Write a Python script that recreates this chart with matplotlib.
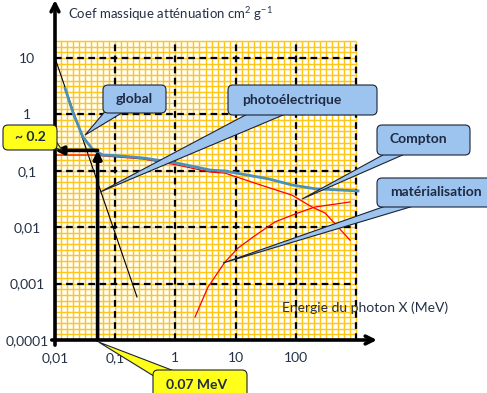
import numpy as np
import matplotlib.pyplot as plt
from matplotlib.patches import FancyBboxPatch, Polygon

plt.rcParams['font.family'] = ['Lato', 'DejaVu Sans']
plt.rcParams['mathtext.fontset'] = 'custom'
plt.rcParams['mathtext.rm'] = 'Lato'
plt.rcParams['mathtext.it'] = 'Lato:italic'
plt.rcParams['mathtext.bf'] = 'Lato:bold'

title = "Coef massique atténuation cm$^{2}$ g$^{-1}$"
xlabel = "Energie du photon X (MeV)"

x_ticks = [0.01, 0.1, 1, 10, 100]
x_labels = ["0,01", "0,1", "1", "10", "100"]
y_ticks = [1e-4, 1e-3, 1e-2, 0.1, 1, 10]
y_labels = ["0,0001", "0,001", "0,01", "0,1", "1", "10"]

# values (energy in MeV, coefficient in cm2/g)
e_global = [0.0147, 0.020, 0.029, 0.043, 0.063, 0.092, 0.29, 1.06, 3.8, 6.7, 35, 87, 210, 1080]
mu_global = [2.9, 1.06, 0.40, 0.234, 0.19, 0.188, 0.169, 0.137, 0.103, 0.099, 0.072, 0.056, 0.048, 0.044]

e_compton = [0.01, 0.043, 0.29, 1.06, 3.76, 6.67, 23.6, 86.5, 186, 305, 502, 794]
mu_compton = [0.19, 0.19, 0.162, 0.127, 0.095, 0.091, 0.058, 0.037, 0.0228, 0.0179, 0.0101, 0.0059]

e_pair = [2.12, 3.48, 6.67, 11.0, 19.5, 45, 109, 208, 794]
mu_pair = [0.000256, 0.00087, 0.00242, 0.00428, 0.0067, 0.0124, 0.0179, 0.0228, 0.028]

e_photo = [0.01, 0.23]
mu_photo = [10, 0.00058]

# reading of the global curve
e_read = 0.051
mu_read = 0.23

W, H = 487, 393
fig = plt.figure(figsize=(W / 100, H / 100), dpi=100)
ax = fig.add_axes([55 / W, 53 / H, 322 / W, 340 / H])
ax.set_xscale('log')
ax.set_yscale('log')
ax.set_xlim(0.01, 10 ** (322 / 60.2 - 2))
ax.set_ylim(1e-4, 10 ** (340 / 56.4 - 4))
for s in ax.spines.values():
    s.set_visible(False)

# graph paper
gx_max, gy_max = 1000, 10 ** 1.3
minor_x = 10 ** np.arange(-2, 3.01, 0.1)
minor_y = 10 ** np.arange(-4, 1.31, 0.1)
ax.vlines(minor_x, 1e-4, gy_max, colors='#FFC61A', lw=1.05, zorder=1)
ax.hlines(minor_y, 0.01, gx_max, colors='#FFC61A', lw=1.05, zorder=1)
ax.vlines([0.1, 1, 10, 100, 1000], 1e-4, gy_max, colors='k', lw=1.6,
          linestyles=(0, (3, 2)), zorder=2)
ax.hlines([1e-3, 1e-2, 0.1, 1, 10], 0.01, gx_max, colors='k', lw=1.6,
          linestyles=(0, (3, 2)), zorder=2)

# curves
ax.plot(e_photo, mu_photo, color='k', lw=0.8, zorder=3)
ax.plot(e_compton, mu_compton, color='#FF0000', lw=0.9, zorder=3)
ax.plot(e_pair, mu_pair, color='#FF0000', lw=0.9, zorder=3)
ax.plot(e_global, mu_global, color='#4a90b8', lw=2.0, zorder=4)

# reading arrows
arr = dict(arrowstyle='-|>', lw=2.6, color='k', mutation_scale=12, shrinkA=0, shrinkB=0)
ax.annotate('', xy=(e_read, mu_read), xytext=(e_read, 1e-4), arrowprops=arr, zorder=5)
ax.annotate('', xy=(0.01, mu_read), xytext=(e_read, mu_read), arrowprops=arr, zorder=5)

# axes with arrows
axarr = dict(arrowstyle='->', lw=2.6, color='k', mutation_scale=14, shrinkA=0, shrinkB=0)
ax.annotate('', xy=(0, 1), xycoords='axes fraction', xytext=(0, -0.015),
            arrowprops=axarr, annotation_clip=False)
ax.annotate('', xy=(1, 0), xycoords='axes fraction', xytext=(-0.01, 0),
            arrowprops=axarr, annotation_clip=False)

txt_color = '#243145'
ax.set_xticks(x_ticks, x_labels)
ax.set_yticks(y_ticks, y_labels)
ax.minorticks_off()
ax.tick_params(length=0, labelsize=10, labelcolor=txt_color)
ax.tick_params(axis='x', pad=9)
ax.tick_params(axis='y', pad=20)
for lab in ax.get_yticklabels():
    lab.set_ha('center')

# overlay in pixel units for texts and callouts
ov = fig.add_axes([0, 0, 1, 1])
ov.set_xlim(0, W)
ov.set_ylim(H, 0)
ov.axis('off')
ov.patch.set_alpha(0)

ov.text(68, 14, title, fontsize=9.5, color=txt_color, va='center', ha='left')
ov.text(282, 308, xlabel, fontsize=10, color=txt_color, va='center', ha='left')


def to_px(pt):
    return ov.transData.inverted().transform(ax.transData.transform(pt))


def callout(text, box, base, tip, fc, tx, ty, ha='left'):
    x0, y0, x1, y1 = box
    px, py = to_px(tip)
    ov.add_patch(Polygon([base[0], (px, py), base[1]], closed=True, fc=fc,
                         ec='#1b2233', lw=0.8, zorder=5))
    ov.add_patch(FancyBboxPatch((x0, y0), x1 - x0, y1 - y0,
                                boxstyle='round,pad=0,rounding_size=5',
                                fc=fc, ec='#1b2233', lw=0.8, zorder=6))
    ov.text(tx, ty, text, fontsize=10, fontweight='bold', color='#1f2a44',
            ha=ha, va='center', zorder=7)


blue = '#9cc4ee'
yellow = '#FFFF1a'
callout("global", (103, 85, 166, 113), [(108, 108), (130, 108)], (0.0315, 0.43),
        blue, 134, 99, ha='center')
callout("photoélectrique", (228, 85, 377, 115), [(255, 110), (295, 110)], (0.056, 0.042),
        blue, 242, 100)
callout("Compton", (377, 125, 470, 155), [(392, 150), (414, 150)], (127, 0.0316),
        blue, 389, 139)
callout("matérialisation", (377, 178, 495, 207), [(397, 202), (427, 202)], (6.2, 0.00232),
        blue, 390, 192)
callout("~ 0.2", (3, 125, 57, 150), [(45, 145), (55, 140)], (0.0131, 0.234),
        yellow, 30, 137, ha='center')
callout("0.07 MeV", (153, 370, 247, 402), [(157, 378), (182, 374)], (0.053, 9.2e-5),
        yellow, 166, 385)

fig.savefig('out.png', dpi=100)
